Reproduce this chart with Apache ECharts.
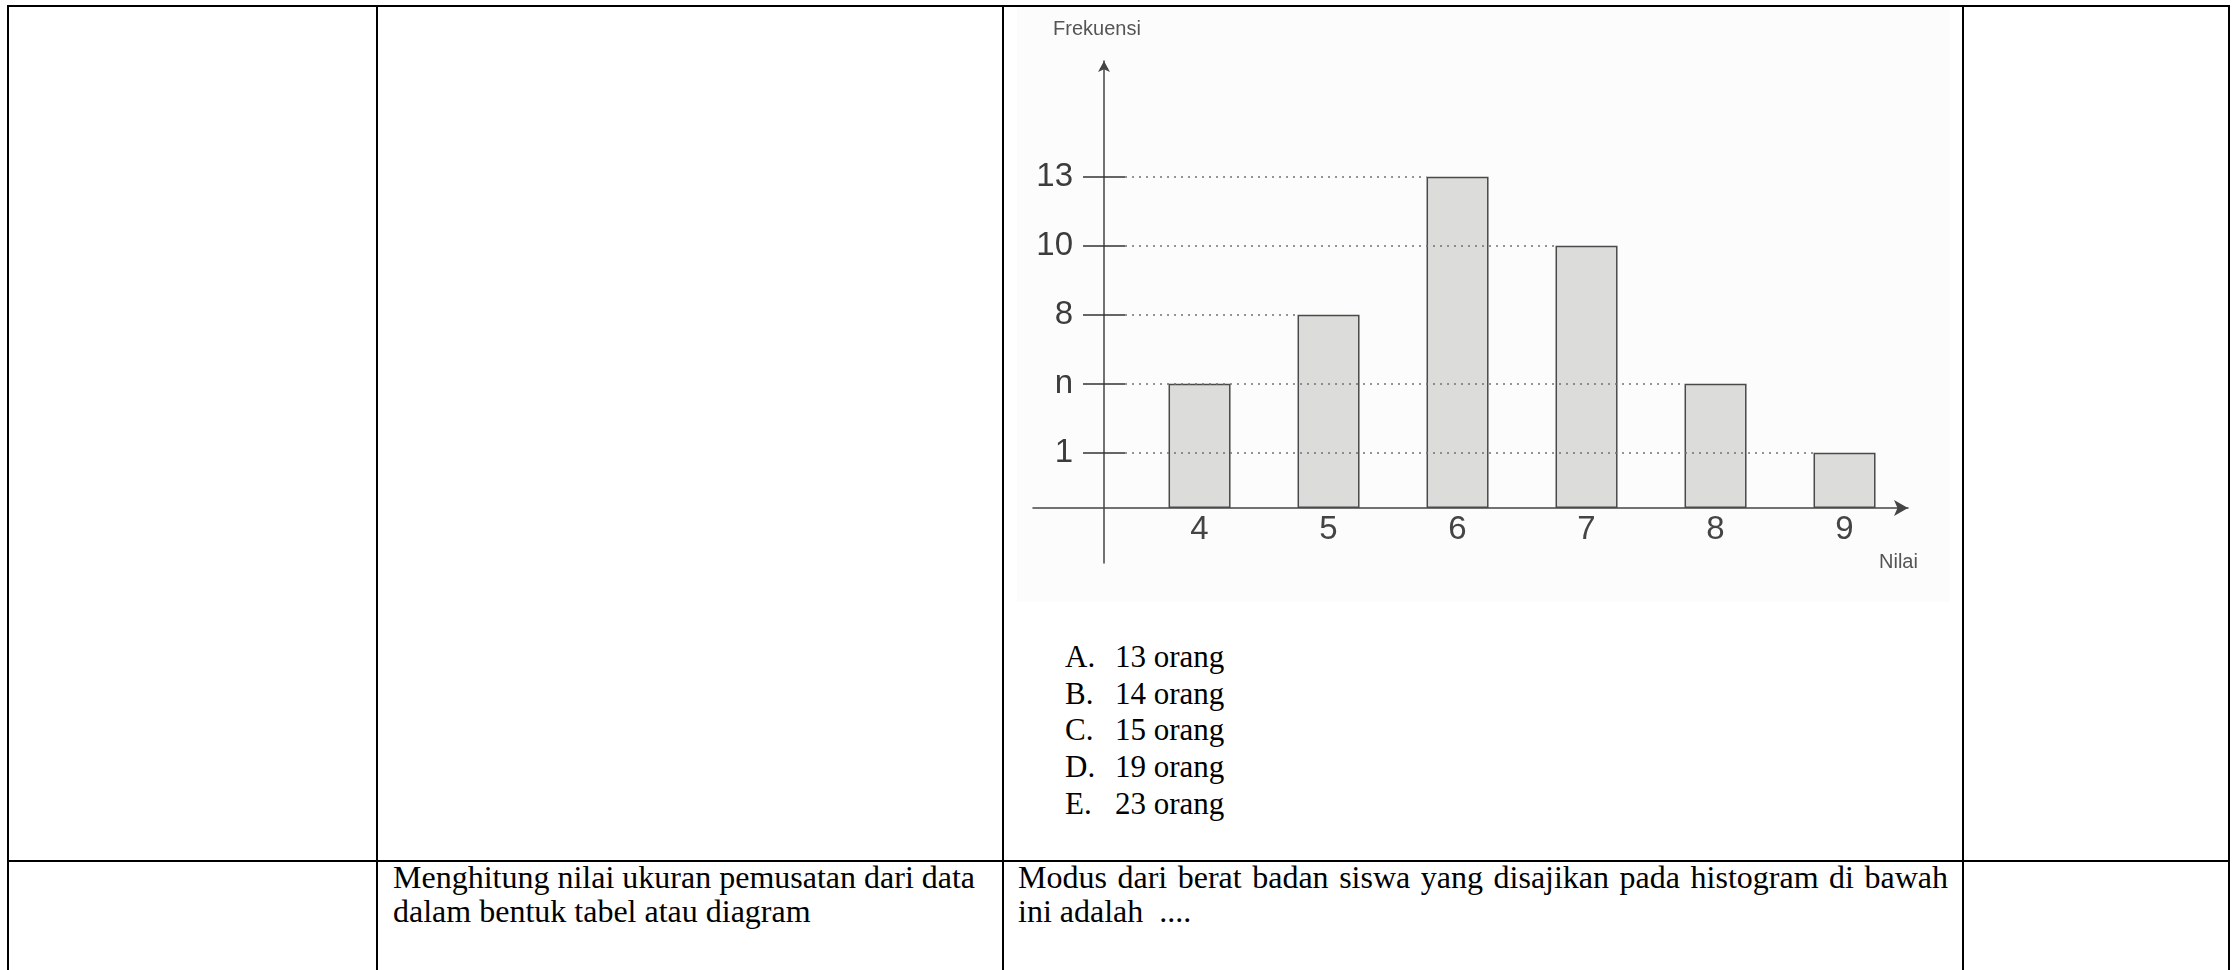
<!DOCTYPE html>
<html>
<head>
<meta charset="utf-8">
<script src="https://cdn.jsdelivr.net/npm/echarts@6/dist/echarts.min.js"></script>
<style>
  html, body { margin: 0; padding: 0; background: #fff; }
  body { width: 2232px; height: 970px; position: relative; overflow: hidden; }
  .ln { position: absolute; background: #000; }
  #chart { position: absolute; left: 1017px; top: 7px; width: 933px; height: 595px; }
  .serif { position: absolute; font-family: "Liberation Serif", "Times New Roman", serif; color: #000; white-space: nowrap; }
  .opt { height: 36.7px; line-height: 36.7px; font-size: 31px; }
  .opt span.k { display: inline-block; width: 50px; }
</style>
</head>
<body>
<!-- table grid -->
<div class="ln" style="left:7px;top:5px;width:2223px;height:2px"></div>
<div class="ln" style="left:7px;top:860px;width:2223px;height:2px"></div>
<div class="ln" style="left:7px;top:5px;width:2px;height:965px"></div>
<div class="ln" style="left:376px;top:5px;width:2px;height:965px"></div>
<div class="ln" style="left:1002px;top:5px;width:2px;height:965px"></div>
<div class="ln" style="left:1962px;top:5px;width:2px;height:965px"></div>
<div class="ln" style="left:2228px;top:5px;width:2px;height:965px"></div>

<div id="chart"></div>

<div class="serif" id="options" style="left:1065px;top:639px"></div>

<div class="serif" style="left:393px;top:861px;font-size:32px;line-height:33.5px">
  Menghitung nilai ukuran pemusatan dari data<br>dalam bentuk tabel atau diagram
</div>
<div class="serif" style="left:1018px;top:861px;width:930px;font-size:32px;line-height:33.5px">
  <div style="text-align:justify;text-align-last:justify;white-space:normal">Modus dari berat badan siswa yang disajikan pada histogram di bawah</div>
  <div>ini adalah&nbsp; ....</div>
</div>

<script>
// ---- data ----
const nilai = [4, 5, 6, 7, 8, 9];                    // x categories (Nilai)
const frekuensiTicks = ['1', 'n', '8', '10', '13'];  // y tick labels (Frekuensi)
const frekuensi = ['n', '8', '13', '10', 'n', '1'];  // bar heights as tick labels
const optionLetters = ['A.', 'B.', 'C.', 'D.', 'E.'];
const optionValues = ['13 orang', '14 orang', '15 orang', '19 orang', '23 orang'];

// ---- answer options ----
document.getElementById('options').innerHTML = optionLetters
  .map((k, i) => '<div class="opt"><span class="k">' + k + '</span>' + optionValues[i] + '</div>')
  .join('');

// ---- layout helpers (schematic chart: tick labels sit on evenly spaced levels) ----
const LEVEL_BASE = 0.8;
const level = lbl => frekuensiTicks.indexOf(lbl) + LEVEL_BASE;
const tickLevels = frekuensiTicks.map((_, i) => i + LEVEL_BASE);
const tickLabel = v => frekuensiTicks[Math.round(v - LEVEL_BASE)] || '';
const HALF_BAR = 31 / 129;
const DOT_START = 3.4225;

const chart = echarts.init(document.getElementById('chart'), null, { renderer: 'canvas' });

const dotted = frekuensiTicks.map(t => {
  const i = frekuensi.lastIndexOf(t);
  return [{ coord: [DOT_START, level(t)] }, { coord: [nilai[i] - HALF_BAR, level(t)] }];
});

const yCommon = { type: 'value', min: -0.797, max: 6.478, position: 'left', offset: -71, splitLine: { show: false } };

chart.setOption({
  backgroundColor: '#fcfcfc',
  animation: false,
  textStyle: { fontFamily: 'Liberation Sans, Arial, sans-serif' },
  grid: { left: 16, right: 42, top: 54, bottom: 39, containLabel: false, outerBoundsMode: 'none' },
  xAxis: {
    type: 'value', min: 2.709, max: 9.492, position: 'bottom', offset: -55,
    name: 'Nilai', nameLocation: 'end', nameGap: -29,
    nameTextStyle: { fontSize: 20, color: '#555', verticalAlign: 'top', padding: [44, 0, 0, 0] },
    axisLine: { show: true, onZero: false, symbol: ['none', 'arrow'], symbolSize: [12, 14], lineStyle: { color: '#444', width: 1.5 } },
    axisTick: { show: false },
    axisLabel: { customValues: nilai, fontSize: 33, color: '#444', margin: 5 },
    splitLine: { show: false }
  },
  yAxis: [
    Object.assign({}, yCommon, {
      name: 'Frekuensi', nameLocation: 'end', nameGap: 22,
      nameTextStyle: { fontSize: 20, color: '#555', padding: [0, 14, 0, 0] },
      axisLine: { show: true, onZero: false, symbol: ['none', 'arrow'], symbolSize: [9, 11], lineStyle: { color: '#444', width: 1.5 } },
      axisTick: { show: true, customValues: tickLevels, length: 21, inside: false, lineStyle: { color: '#333', width: 1.5 } },
      axisLabel: { customValues: tickLevels, formatter: tickLabel, margin: 31, fontSize: 33, color: '#3c3c3c' }
    }),
    Object.assign({}, yCommon, {
      axisLine: { show: false, onZero: false },
      axisTick: { show: true, customValues: tickLevels, length: 21, inside: true, lineStyle: { color: '#333', width: 1.5 } },
      axisLabel: { show: false }
    })
  ],
  series: [{
    type: 'bar',
    yAxisIndex: 0,
    barWidth: 62,
    data: nilai.map((v, i) => [v, level(frekuensi[i])]),
    itemStyle: { color: '#dcdcda', borderColor: '#4a4a4a', borderWidth: 1.5 },
    markLine: {
      silent: true, symbol: 'none', label: { show: false },
      lineStyle: { type: [2, 5], color: '#707070', width: 1.5 },
      emphasis: { disabled: true },
      data: dotted
    }
  }]
});
</script>
</body>
</html>
